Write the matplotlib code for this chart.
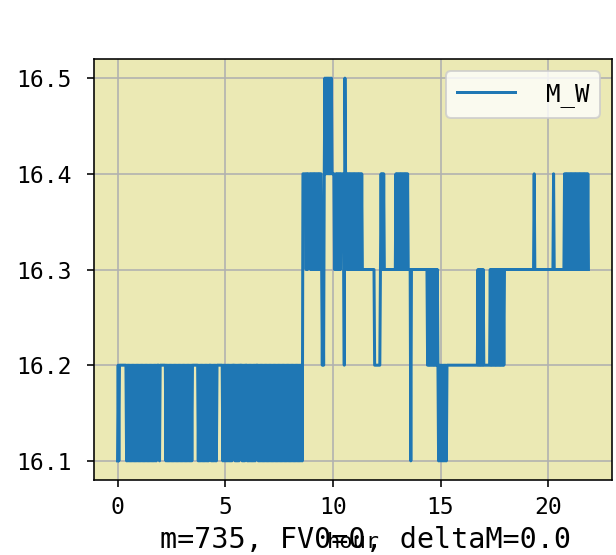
import numpy as np
import matplotlib
matplotlib.use("Agg")
import matplotlib.pyplot as plt

# M_W readings, one code per sample (1 -> 16.1 ... 5 -> 16.5)
sample_step_h = 0.03
mw_codes = [
    "1212", "2222222222",
    "121212121212" "121212121212" "121212121212" "121212121212",
    "2221222222222",
    "121212121212" "121212121212" "121212121212" "121212",
    "22222222", "12121212121212121", "222", "1212121212", "22222222",
    "1212121212121212",
    "222" "12121212" "222" "12121" "222" "12121212121212" "222",
    "121212121212" "121212121212" "121212121212" "121212121212"
    "121212121212" "121212121",
    "44444", "3434", "444", "3434343434343434", "43232", "4545454545454",
    "4443", "3434343434", "444325443", "43434343434343434343434",
    "3333333333" "333333333", "222222222", "34343433", "3333333333" "33333",
    "34343434343434343434", "333", "3133",
    "3333333333" "3333333333" "333",
    "2323232323" "2323232", "1212121212121",
    "2222222222" "2222222222" "2222222222" "2222222222" "22222222",
    "3232323232", "222222222", "3232323232" "3232323232" "323",
    "3333333333" "3333333333" "3333333333" "3333333333" "333",
    "33433", "3333333333" "3333333333" "33333", "33433",
    "3333333333" "3333",
    "4343434343" "4343434343" "4343434343" "43434343",
]
level_of_code = {"1": 16.1, "2": 16.2, "3": 16.3, "4": 16.4, "5": 16.5}
series_label = "M_W"
x_label = "hour"
info_text = "m=735, FV0=0, deltaM=0.0"
x_ticks = [0, 5, 10, 15, 20]
y_ticks = [16.1, 16.2, 16.3, 16.4, 16.5]

codes = "".join(mw_codes)
mw = np.array([level_of_code[c] for c in codes])
hours = np.arange(len(mw)) * sample_step_h

mono = "DejaVu Sans Mono"

fig = plt.figure(figsize=(616 / 144, 555 / 144), dpi=144)
ax = fig.add_axes([94 / 616, 1 - 480 / 555, (612 - 94) / 616, (480 - 59) / 555])
ax.set_facecolor("#ebe9b4")
ax.plot(hours, mw, color="#1f77b4", lw=1.5, label=series_label)
ax.grid(True, color="#b0b0b0", lw=0.8)
ax.set_axisbelow(True)
ax.set_xticks(x_ticks)
ax.set_yticks(y_ticks)
ax.tick_params(axis="y", pad=7.5)
ax.tick_params(axis="x", pad=4.5)
for lab in ax.get_xticklabels() + ax.get_yticklabels():
    lab.set_family(mono)
    lab.set_fontsize(11.5)

# xlabel sits low, on top of the info line (as in the original)
ax.set_xlabel(x_label, fontsize=11, family=mono, va="baseline")
ax.xaxis.set_label_coords(0.5, (480 - 548) / 421)

leg = ax.legend(loc="upper right", prop={"family": mono, "size": 12},
                handlelength=2.4, handletextpad=1.3, borderpad=0.45)

fig.text(160 / 616, 1 - 548 / 555, info_text, ha="left", va="baseline",
         fontsize=14.2, family=mono)

fig.savefig("out.png", dpi=144)
